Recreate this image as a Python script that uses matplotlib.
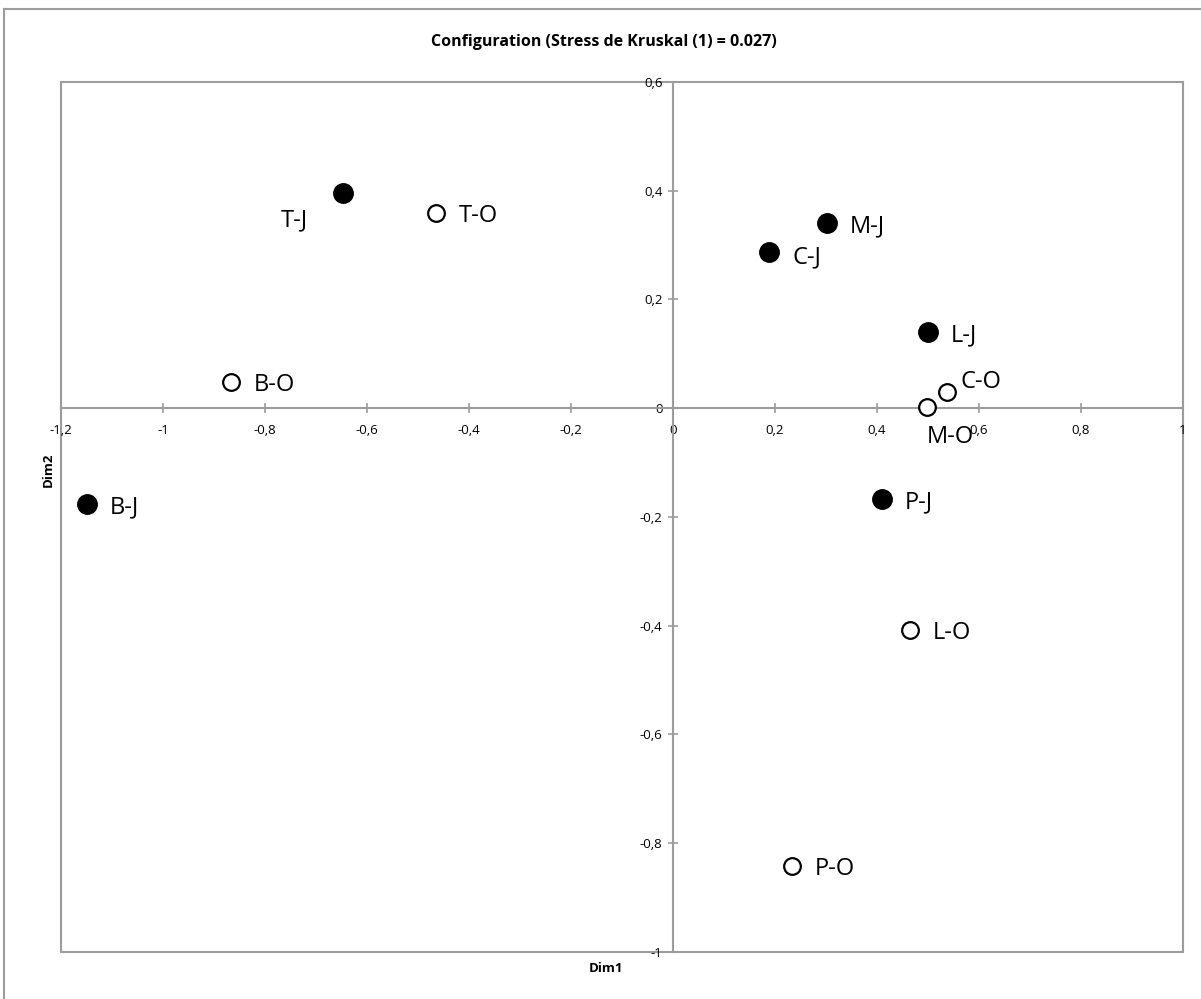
import matplotlib.pyplot as plt
from matplotlib.patches import Rectangle
from matplotlib.lines import Line2D
from matplotlib.ticker import FuncFormatter, MultipleLocator

labels = ["T-J", "T-O", "B-O", "B-J", "M-J", "C-J",
          "L-J", "C-O", "M-O", "P-J", "L-O", "P-O"]
dim1 = [-0.647, -0.465, -0.867, -1.149, 0.302, 0.188,
        0.500, 0.537, 0.498, 0.410, 0.465, 0.233]
dim2 = [0.395, 0.359, 0.048, -0.177, 0.340, 0.287,
        0.140, 0.029, 0.002, -0.167, -0.408, -0.842]

TITLE = "Configuration (Stress de Kruskal (1) = 0.027)"
GREY = "#9c9c9c"
W, H = 1201, 999
PX = 0.72  # points per pixel at dpi 100

# label placement: (dx, dy in px, ha)
default_off = (23, -3, "left")
label_off = {
    "T-J": (-35, -27, "right"),
    "C-O": (14, 10, "left"),
    "M-O": (23, -30, "center"),
    "C-J": (24, -5, "left"),
}

plt.rcParams["font.family"] = ["Open Sans", "DejaVu Sans"]

fig = plt.figure(figsize=(W / 100, H / 100), dpi=100)
fig.patch.set_facecolor("white")

# outer chart border (Excel style)
fig.add_artist(Line2D([4 / W, 4 / W], [1 - 9 / H, 0], transform=fig.transFigure,
                      color=GREY, lw=1.5))
fig.add_artist(Line2D([4 / W, 1], [1 - 9 / H, 1 - 9 / H], transform=fig.transFigure,
                      color=GREY, lw=1.5))

left, right, top, bottom = 61, 1183, 82, 952
ax = fig.add_axes([left / W, 1 - bottom / H, (right - left) / W, (bottom - top) / H])
ax.set_xlim(-1.2, 1)
ax.set_ylim(-1, 0.6)

for s in ["top", "right"]:
    ax.spines[s].set_visible(False)
ax.spines["left"].set_position(("data", 0))
ax.spines["bottom"].set_position(("data", 0))
for s in ["left", "bottom"]:
    ax.spines[s].set_color(GREY)
    ax.spines[s].set_linewidth(1.5)
ax.add_patch(Rectangle((0, 0), 1, 1, transform=ax.transAxes, fill=False,
                       edgecolor=GREY, lw=1.5, clip_on=False, zorder=1))

ax.xaxis.set_major_locator(MultipleLocator(0.2))
ax.yaxis.set_major_locator(MultipleLocator(0.2))
fmt = FuncFormatter(lambda v, p: f"{round(v, 2):g}".replace(".", ","))
ax.xaxis.set_major_formatter(fmt)
ax.yaxis.set_major_formatter(fmt)
ax.tick_params(direction="inout", length=7, width=1.2, color=GREY,
               labelsize=9.5, labelcolor="black")
ax.tick_params(axis="x", pad=8)
ax.tick_params(axis="y", pad=4)

for lab, x, y in zip(labels, dim1, dim2):
    filled = lab.endswith("J")
    if filled:
        ax.plot(x, y, "o", ms=14, color="black", zorder=3, clip_on=False)
    else:
        ax.plot(x, y, "o", ms=12, mfc="white", mec="black", mew=1.6,
                zorder=3, clip_on=False)
    dx, dy, ha = label_off.get(lab, default_off)
    ax.annotate(lab, (x, y), xytext=(dx * PX, dy * PX), textcoords="offset points",
                ha=ha, va="center", fontsize=17, zorder=4)

fig.text(604 / W, 1 - 42 / H, TITLE, ha="center", va="center",
         fontsize=11.5, fontweight="bold")
fig.text(606 / W, 1 - 968 / H, "Dim1", ha="center", va="center",
         fontsize=9.5, fontweight="bold")
fig.text(48 / W, 1 - 470 / H, "Dim2", ha="center", va="center",
         fontsize=9.5, fontweight="bold", rotation=90)

fig.savefig("out.png", dpi=100, facecolor="white")
